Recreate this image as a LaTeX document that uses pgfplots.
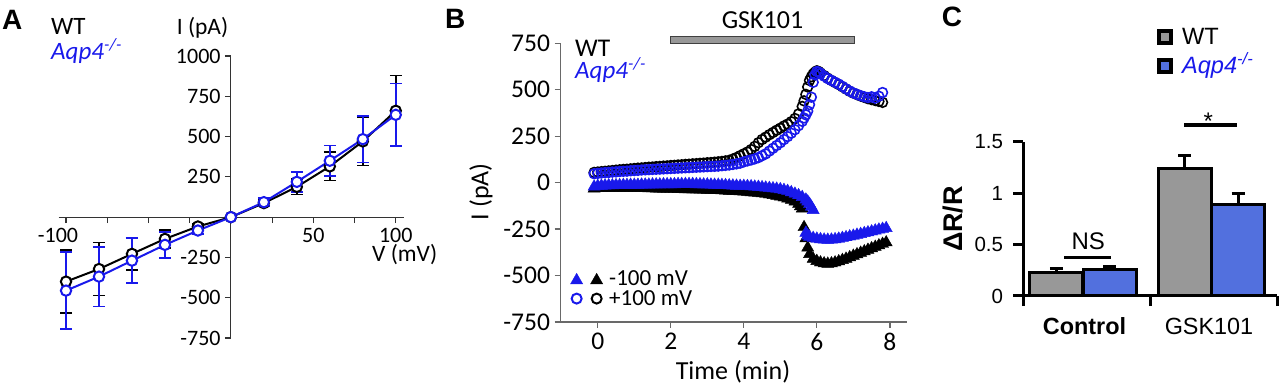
\documentclass[border=0pt]{standalone}
\usepackage{pgfplots}
\usepackage{pgfplotstable}
\pgfplotsset{compat=1.18}
\usepackage{fontspec}
\setmainfont{Carlito}
\newfontfamily\arial{Liberation Sans}
\newcommand{\fs}[1]{\fontsize{#1}{#1}\selectfont}
\newcommand{\TA}[1]{\mbox{\fs{22}#1}}
\newcommand{\TB}[1]{\mbox{\fs{25.5}#1}}
\newcommand{\TC}[1]{\mbox{\arial\fs{20.5}#1}}
\definecolor{myblue}{RGB}{25,25,235}
\definecolor{barblue}{RGB}{82,112,222}
\definecolor{bargray}{RGB}{152,152,152}
\definecolor{axgray}{RGB}{105,105,105}

\pgfplotstableread{
V WT WTe KO KOe
-100 -400 195 -456 240
-80 -322 165 -369 185
-60 -228 100 -270 140
-40 -135 55 -172 80
-20 -58 15 -83 20
0 0 0 0 0
20 87 20 93 25
40 188 48 219 62
60 315 88 350 95
80 470 150 484 145
100 660 220 635 195
}\IVdata

\pgfplotstableread{
t I
-0.1 48
0.0 50
0.1 52
0.2 54
0.3 55
0.4 57
0.5 58
0.6 60
0.7 61
0.8 62
0.9 64
1.0 65
1.1 66
1.2 68
1.3 69
1.4 70
1.5 71
1.6 72
1.7 73
1.8 74
1.9 75
2.0 76
2.1 77
2.2 78
2.3 79
2.4 80
2.5 81
2.6 82
2.7 83
2.8 84
2.9 85
3.0 86
3.1 87
3.2 88
3.3 89
3.4 91
3.5 93
3.6 95
3.7 98
3.8 101
3.9 105
4.0 112
4.1 117
4.2 122
4.3 128
4.4 135
4.5 145
4.6 155
4.7 170
4.8 185
4.9 200
5.0 215
5.1 232
5.2 248
5.3 266
5.4 285
5.5 307
5.6 330
5.65 348
5.7 365
5.75 385
5.8 420
5.85 460
5.9 540
5.95 580
6.0 598
6.05 595
6.1 588
6.2 573
6.3 560
6.4 550
6.5 540
6.6 530
6.7 518
6.8 505
6.9 493
7.0 483
7.1 475
7.2 468
7.3 462
7.4 458
7.5 462
7.6 455
7.7 465
7.8 485
}\bluecirc

\pgfplotstableread{
t I
-0.1 55
0.0 57
0.1 59
0.2 61
0.3 63
0.4 65
0.5 67
0.6 69
0.7 71
0.8 72
0.9 74
1.0 76
1.1 78
1.2 79
1.3 81
1.4 83
1.5 84
1.6 86
1.7 87
1.8 89
1.9 90
2.0 92
2.1 93
2.2 95
2.3 96
2.4 98
2.5 99
2.6 101
2.7 102
2.8 104
2.9 105
3.0 107
3.1 108
3.2 110
3.3 112
3.4 114
3.5 117
3.6 120
3.7 127
3.8 135
3.9 145
4.0 155
4.1 165
4.2 178
4.3 195
4.4 215
4.5 232
4.6 245
4.7 258
4.8 270
4.9 282
5.0 293
5.1 305
5.2 315
5.3 328
5.4 345
5.5 370
5.6 410
5.65 440
5.7 475
5.75 515
5.8 550
5.85 570
5.9 585
5.95 595
6.0 602
6.05 598
6.1 590
6.2 576
6.3 562
6.4 550
6.5 539
6.6 528
6.7 516
6.8 504
6.9 492
7.0 482
7.1 474
7.2 466
7.3 459
7.4 452
7.5 447
7.6 442
7.7 437
7.8 432
}\blackcirc

\pgfplotstableread{
t I
-0.1 -22
0.0 -18
0.1 -17
0.2 -16
0.3 -15
0.4 -15
0.5 -14
0.6 -14
0.7 -13
0.8 -13
0.9 -12
1.0 -12
1.1 -12
1.2 -11
1.3 -11
1.4 -11
1.5 -10
1.6 -10
1.7 -10
1.8 -9
1.9 -9
2.0 -9
2.1 -9
2.2 -8
2.3 -8
2.4 -8
2.5 -8
2.6 -8
2.7 -9
2.8 -9
2.9 -10
3.0 -10
3.1 -11
3.2 -12
3.3 -12
3.4 -13
3.5 -14
3.6 -15
3.7 -16
3.8 -17
3.9 -18
4.0 -18
4.1 -19
4.2 -20
4.3 -22
4.4 -23
4.5 -25
4.6 -27
4.7 -29
4.8 -31
4.9 -33
5.0 -36
5.1 -40
5.2 -45
5.3 -52
5.4 -60
5.5 -68
5.6 -78
5.7 -92
5.75 -102
5.8 -115
5.85 -130
5.9 -148
5.7 -270
5.75 -285
5.8 -292
5.9 -298
6.0 -302
6.1 -305
6.2 -307
6.3 -308
6.4 -307
6.5 -305
6.6 -302
6.7 -298
6.8 -294
6.9 -290
7.0 -286
7.1 -281
7.2 -277
7.3 -272
7.4 -268
7.5 -263
7.6 -258
7.7 -253
7.8 -249
7.9 -245
}\bluetri

\pgfplotstableread{
t I
-0.1 -32
0.0 -30
0.1 -29
0.2 -28
0.3 -28
0.4 -28
0.5 -28
0.6 -28
0.7 -28
0.8 -29
0.9 -29
1.0 -29
1.1 -30
1.2 -30
1.3 -30
1.4 -31
1.5 -31
1.6 -32
1.7 -32
1.8 -33
1.9 -33
2.0 -34
2.1 -34
2.2 -35
2.3 -35
2.4 -36
2.5 -36
2.6 -37
2.7 -37
2.8 -38
2.9 -38
3.0 -39
3.1 -39
3.2 -40
3.3 -41
3.4 -42
3.5 -43
3.6 -44
3.7 -45
3.8 -46
3.9 -47
4.0 -48
4.1 -50
4.2 -52
4.3 -54
4.4 -56
4.5 -58
4.6 -61
4.7 -64
4.8 -67
4.9 -71
5.0 -75
5.1 -80
5.2 -86
5.3 -93
5.4 -102
5.5 -115
5.55 -128
5.6 -140
5.65 -240
5.7 -300
5.75 -350
5.8 -385
5.9 -410
6.0 -422
6.1 -430
6.2 -435
6.3 -437
6.4 -435
6.5 -430
6.6 -424
6.7 -417
6.8 -410
6.9 -402
7.0 -394
7.1 -386
7.2 -378
7.3 -370
7.4 -362
7.5 -354
7.6 -346
7.7 -338
7.8 -330
7.9 -322
}\blacktri

\begin{document}
\begin{tikzpicture}
\useasboundingbox (0pt,0pt) rectangle (1280pt,388pt);

% ---------------- Panel A ----------------
\begin{axis}[
  at={(58.6pt,50pt)}, anchor=south west, scale only axis,
  width=345.4pt, height=282pt,
  xmin=-104.5, xmax=105, ymin=-750, ymax=1000,
  axis lines=middle,
  axis line style={-, line width=1.2pt, black!80},
  tick style={line width=1.2pt, black!80},
  major tick length=6pt, tick align=outside,
  xtick={-100,-75,-50,-25,0,25,50,75,100},
  xticklabels={\TA{\hspace*{-16pt}-100},,,,,,\TA{50},,\TA{100}},
  ytick={-750,-500,-250,0,250,500,750,1000},
  yticklabels={\TA{-750},\TA{-500},\TA{-250},,\TA{250},\TA{500},\TA{750},\TA{1000}},
  xticklabel style={inner sep=0pt, outer sep=0pt, anchor=north, yshift=-5pt},
  yticklabel style={inner sep=0pt, outer sep=0pt, anchor=east, xshift=-4.3pt},
  clip=false,
]
\addplot[black, line width=2pt, mark=*, mark size=5.2pt,
  mark options={fill=white, draw=black, line width=2pt},
  error bars/.cd, y dir=both, y explicit,
  error bar style={line width=1.6pt, black},
  error mark options={rotate=90, mark size=6pt, line width=1.6pt, black}]
  table[x=V, y=WT, y error=WTe] {\IVdata};
\addplot[myblue, line width=2pt, mark=*, mark size=5.2pt,
  mark options={fill=white, draw=myblue, line width=2pt},
  error bars/.cd, y dir=both, y explicit,
  error bar style={line width=1.6pt, myblue},
  error mark options={rotate=90, mark size=6pt, line width=1.6pt, myblue}]
  table[x=V, y=KO, y error=KOe] {\IVdata};
\end{axis}

\node[anchor=base west, inner sep=0pt, font=\arial\bfseries\fs{28}] at (2pt,358pt) {A};
\node[anchor=base west, inner sep=0pt, font=\fs{25}] at (51pt,353pt) {WT};
\node[anchor=base west, inner sep=0pt, font=\fs{25}, text=myblue] at (51pt,328.5pt) {\itshape Aqp4\textsuperscript{-/-}};
\node[anchor=base, inner sep=0pt, font=\fs{23.5}] at (202.5pt,353pt) {I (pA)};
\node[anchor=base west, inner sep=0pt, font=\fs{23.5}] at (372pt,126pt) {V (mV)};

% ---------------- Panel B ----------------
\begin{axis}[
  at={(560.5pt,66pt)}, anchor=south west, scale only axis,
  width=346.5pt, height=278.7pt,
  xmin=-1.02, xmax=8.47, ymin=-750, ymax=750,
  axis x line=bottom, axis y line=left,
  axis line style={-, line width=1.3pt, axgray},
  tick style={line width=1.3pt, axgray},
  major tick length=6pt, tick align=outside,
  xtick={0,2,4,6,8}, xticklabels={\TB{0},\TB{2},\TB{4},\TB{6},\TB{8}},
  ytick={-750,-500,-250,0,250,500,750},
  yticklabels={\TB{-750},\TB{-500},\TB{-250},\TB{0},\TB{250},\TB{500},\TB{750}},
  xticklabel style={inner sep=0pt, outer sep=0pt, anchor=north, yshift=-5pt},
  yticklabel style={inner sep=0pt, outer sep=0pt, anchor=east, xshift=-4.5pt},
  clip=false,
  legend cell align=left,
  legend style={at={(axis description cs:0.0291,0.1823)}, anchor=north west,
    draw=none, fill=none, inner sep=0pt, outer sep=0pt,
    row sep=5.2pt, column sep=6.5pt, font=\fs{23},
    nodes={inner sep=0pt, outer sep=0pt, text height=14.8pt, text depth=0pt}},
]
\addplot[only marks, mark=triangle*, mark size=7pt, black, mark options={fill=black, draw=black}, forget plot] table[x=t, y=I] {\blacktri};
\addplot[only marks, mark=triangle*, mark size=7pt, myblue, mark options={fill=myblue, draw=myblue}, forget plot] table[x=t, y=I] {\bluetri};
\addplot[only marks, mark=o, mark size=4.9pt, black, mark options={line width=1.6pt}, forget plot] table[x=t, y=I] {\blackcirc};
\addplot[only marks, mark=o, mark size=4.9pt, myblue, mark options={line width=1.6pt}, forget plot] table[x=t, y=I] {\bluecirc};
\draw[fill=bargray, draw=black!75, line width=1.3pt] (axis cs:2,749) rectangle (axis cs:7.03,785);
\addlegendimage{legend image code/.code={
  \draw[myblue, fill=myblue] plot[mark=triangle*, mark size=7pt] coordinates {(0pt,-1.75pt)};
  \draw[black, fill=black] plot[mark=triangle*, mark size=7pt] coordinates {(20pt,-1.75pt)};}}
\addlegendentry{-100 mV}
\addlegendimage{legend image code/.code={
  \draw[myblue, line width=2pt] plot[mark=o, mark size=5pt] coordinates {(0pt,0pt)};
  \draw[black, line width=2pt] plot[mark=o, mark size=5pt] coordinates {(20pt,0pt)};}}
\addlegendentry{+100 mV}
\end{axis}

\node[anchor=base west, inner sep=0pt, font=\arial\bfseries\fs{28}] at (445pt,359.7pt) {B};
\node[anchor=base, inner sep=0pt, font=\fs{26}] at (762.5pt,359.7pt) {GSK101};
\node[anchor=base west, inner sep=0pt, font=\fs{25.5}] at (575pt,331.3pt) {WT};
\node[anchor=base west, inner sep=0pt, font=\fs{25}, text=myblue] at (575pt,309.7pt) {\itshape Aqp4\textsuperscript{-/-}};
\node[anchor=base, rotate=90, inner sep=0pt, font=\fs{26}] at (488.4pt,196.3pt) {I (pA)};
\node[anchor=base, inner sep=0pt, font=\fs{26}] at (733pt,8pt) {Time (min)};

% ---------------- Panel C ----------------
\begin{axis}[
  at={(1023pt,92pt)}, anchor=south west, scale only axis,
  width=254pt, height=154pt,
  xmin=0, xmax=2, ymin=0, ymax=1.5,
  axis x line=bottom, axis y line=left,
  axis line style={-, line width=3pt, black},
  tick style={line width=3pt, black},
  major tick length=10pt, tick align=outside,
  xtick={0,1,2}, xticklabels={},
  ytick={0,0.5,1,1.5}, yticklabels={\TC{0},\TC{0.5},\TC{1},\TC{1.5}},
  yticklabel style={inner sep=0pt, outer sep=0pt, anchor=east, xshift=-10pt},
  clip=false,
]
\addplot[ybar, bar width=0.42, bar shift=0pt, fill=bargray, draw=black, line width=3pt,
  error bars/.cd, y dir=plus, y explicit,
  error bar style={line width=3pt, black},
  error mark options={rotate=90, mark size=6.5pt, line width=3pt, black}]
  coordinates {(0.262,0.23) +- (0,0.035) (1.273,1.24) +- (0,0.13)};
\addplot[ybar, bar width=0.42, bar shift=0pt, fill=barblue, draw=black, line width=3pt,
  error bars/.cd, y dir=plus, y explicit,
  error bar style={line width=3pt, black},
  error mark options={rotate=90, mark size=6.5pt, line width=3pt, black}]
  coordinates {(0.684,0.255) +- (0,0.03) (1.694,0.89) +- (0,0.11)};
\end{axis}

% legend for C
\begin{axis}[
  at={(1023pt,92pt)}, anchor=south west, scale only axis,
  width=254pt, height=154pt, hide axis,
  xmin=0, xmax=2, ymin=0, ymax=1.5,
  legend cell align=left,
  legend style={at={(axis description cs:0.5283,1.7412)}, anchor=north west,
    draw=none, fill=none, inner sep=0pt, outer sep=0pt,
    row sep=12.3pt, column sep=9.5pt, font=\arial\fs{23.6},
    nodes={inner sep=0pt, outer sep=0pt, text height=16.9pt, text depth=0pt}},
]
\addlegendimage{legend image code/.code={
  \fill[black] (0pt,-7.5pt) rectangle (15pt,7.5pt);
  \fill[bargray] (4pt,-3.5pt) rectangle (11pt,3.5pt);}}
\addlegendentry{WT}
\addlegendimage{legend image code/.code={
  \fill[black] (0pt,-7.5pt) rectangle (15pt,7.5pt);
  \fill[barblue] (4pt,-3.5pt) rectangle (11pt,3.5pt);}}
\addlegendentry{\textcolor{myblue}{\itshape Aqp4\textsuperscript{-/-}}}
\end{axis}

\node[anchor=base west, inner sep=0pt, font=\arial\bfseries\fs{28}] at (941.7pt,361.3pt) {C};
\node[anchor=base, rotate=90, inner sep=0pt, font=\arial\bfseries\fs{27}] at (962pt,169pt) {ΔR/R};
\node[anchor=base, inner sep=0pt, font=\arial\bfseries\fs{23.4}] at (1084.5pt,53pt) {Control};
\node[anchor=base, inner sep=0pt, font=\arial\fs{23.4}] at (1209pt,53pt) {GSK101};
\node[anchor=base, inner sep=0pt, font=\arial\fs{24}] at (1088.3pt,138pt) {NS};
\draw[line width=3.5pt] (1064.3pt,130.7pt) -- (1111pt,130.7pt);
\node[anchor=base, inner sep=0pt, font=\arial\fs{24}] at (1208.3pt,258.1pt) {*};
\draw[line width=3.5pt] (1184.3pt,263pt) -- (1236.7pt,263pt);
\end{tikzpicture}
\end{document}
